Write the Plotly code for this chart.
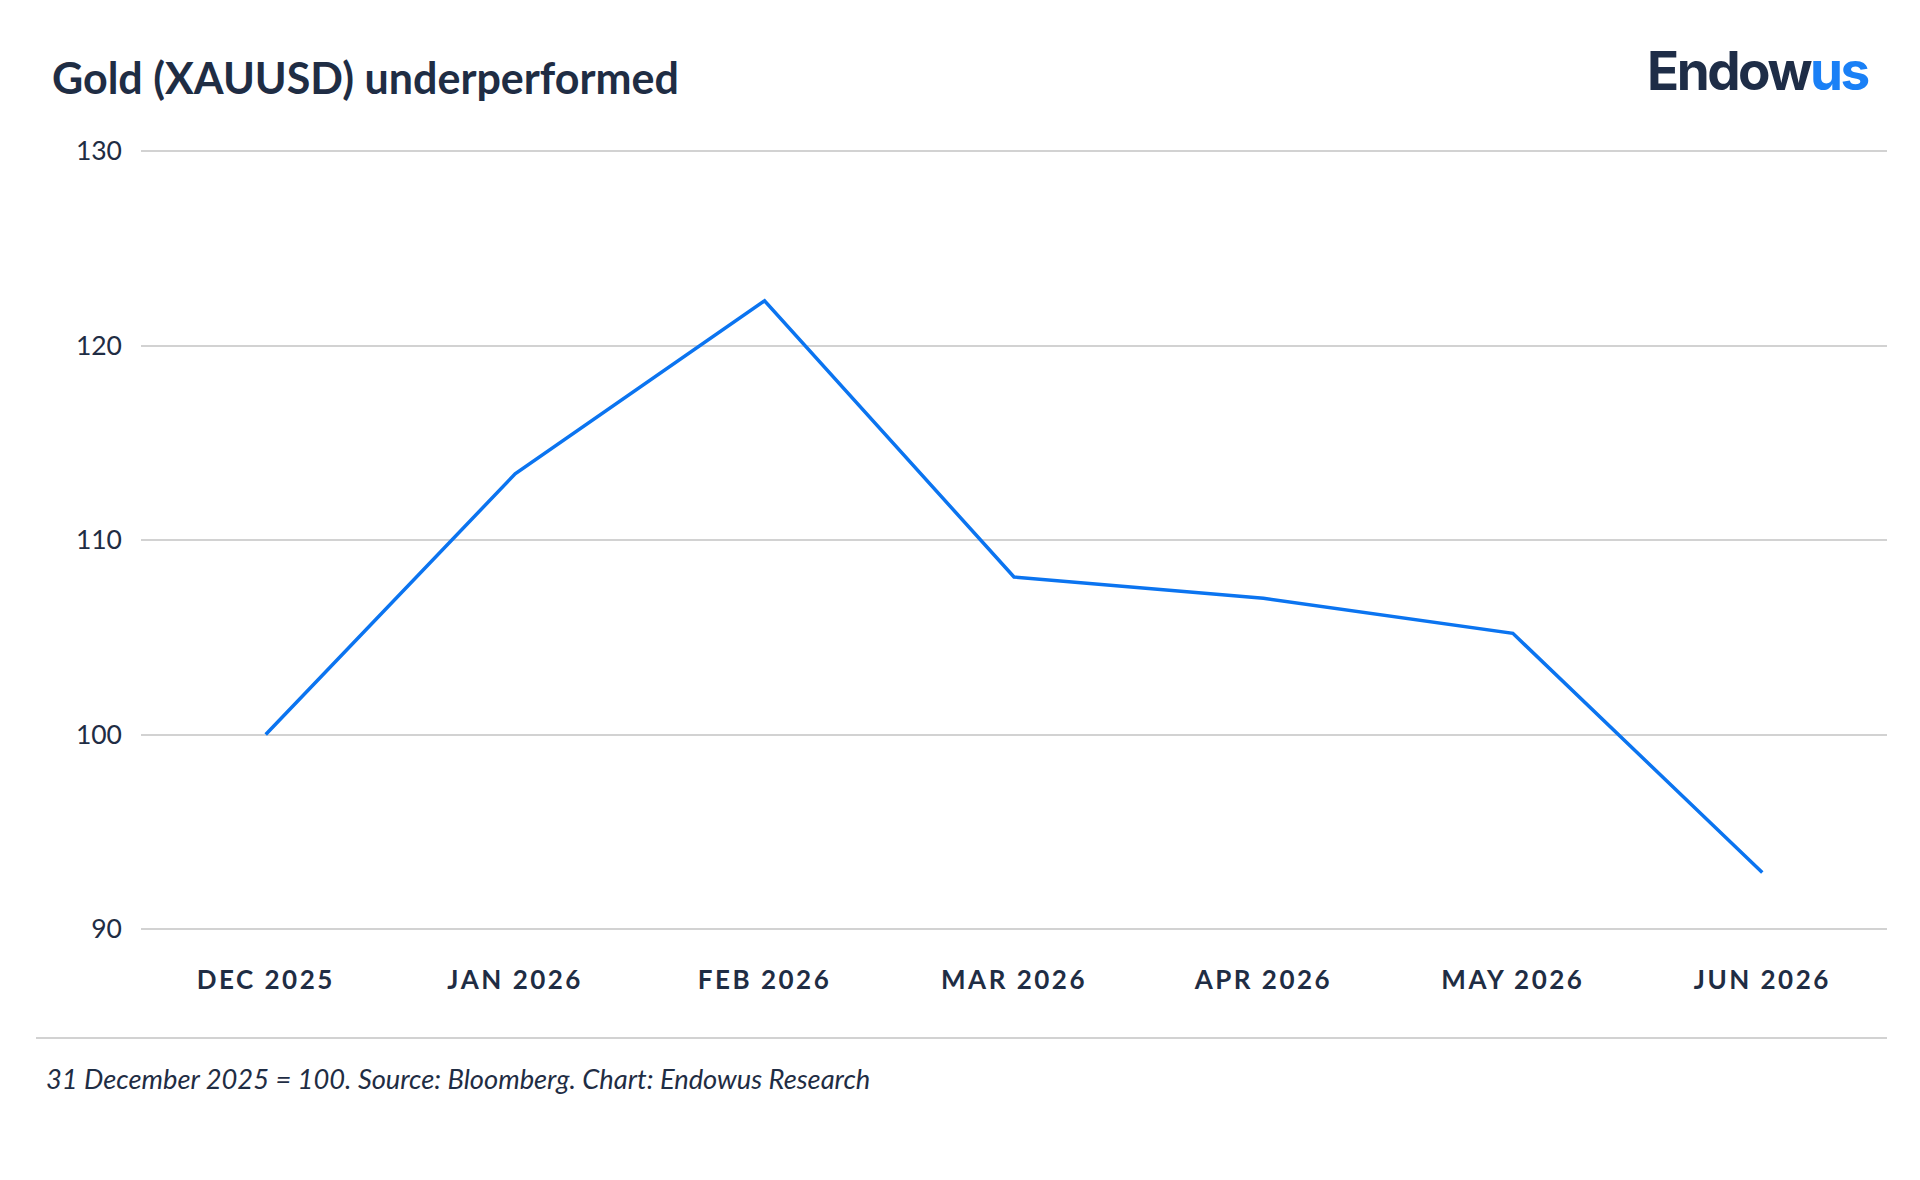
import plotly.graph_objects as go

# ---- data ----
months = ["DEC 2025", "JAN 2026", "FEB 2026", "MAR 2026", "APR 2026", "MAY 2026", "JUN 2026"]
gold_index = [100.0, 113.4, 122.3, 108.1, 107.0, 105.2, 92.9]
y_ticks = [90, 100, 110, 120, 130]

title_text = "Gold (XAUUSD) underperformed"
footnote_text = "31 December 2025 = 100. Source: Bloomberg. Chart: Endowus Research"

NAVY = "#1f2d44"
BLUE = "#0b74f0"
GRID = "#d2d2d2"

# plot-area geometry (pixels)
W, H = 1920, 1180
L, R, T, B = 141, 33, 148, 248
pw, ph = W - L - R, H - T - B
PAD = 3 / ((H - B - T - 6) / 40.0)  # small value pad so edge gridlines render


def px_x(x):
    return (x - L) / pw


def px_y(y):
    return (H - B - y) / ph


fig = go.Figure()
fig.add_trace(go.Scatter(
    x=months, y=gold_index, mode="lines",
    line=dict(color=BLUE, width=3.5),
    hoverinfo="x+y", showlegend=False,
))

tick_text = ['<span style="letter-spacing:2.5px">%s</span>' % m for m in months]

fig.update_layout(
    width=W, height=H,
    margin=dict(l=L, r=R, t=T, b=B, pad=0),
    paper_bgcolor="white", plot_bgcolor="white",
    font=dict(family="Lato", color=NAVY),
    title=dict(
        text=title_text, xref="container", yref="container",
        x=52 / W, y=1 - 79 / H, xanchor="left", yanchor="middle",
        font=dict(family="Lato", size=43, weight=700, color=NAVY),
    ),
    xaxis=dict(
        type="category", range=[-0.5, 6.5],
        tickmode="array", tickvals=months, ticktext=tick_text,
        showgrid=False, zeroline=False, showline=False,
        ticks="", ticklabelstandoff=30,
        tickfont=dict(family="Lato", size=26, weight=700, color=NAVY),
    ),
    yaxis=dict(
        range=[90 - PAD, 130 + PAD], tickvals=y_ticks,
        showgrid=True, gridcolor=GRID, gridwidth=2,
        zeroline=False, showline=False,
        ticks="", ticklabelstandoff=18,
        tickfont=dict(family="Lato", size=26.5, color=NAVY),
    ),
    annotations=[
        dict(
            text='<span style="letter-spacing:-2.5px">Endow<span style="color:#1a80f6">us</span></span>',
            xref="paper", yref="paper", x=px_x(1870), y=px_y(71),
            xanchor="right", yanchor="middle", showarrow=False,
            font=dict(family="Inter", size=53, weight=700, color="#1e2d47"),
        ),
        dict(
            text="<i>%s</i>" % footnote_text,
            xref="paper", yref="paper", x=px_x(44), y=px_y(1078),
            xanchor="left", yanchor="middle", showarrow=False,
            font=dict(family="Lato", size=27.3, color=NAVY),
        ),
    ],
    shapes=[
        dict(
            type="line", xref="paper", yref="paper",
            x0=px_x(36), x1=px_x(1887), y0=px_y(1038), y1=px_y(1038),
            line=dict(color=GRID, width=2),
        ),
    ],
)

fig.write_html("out.html")
